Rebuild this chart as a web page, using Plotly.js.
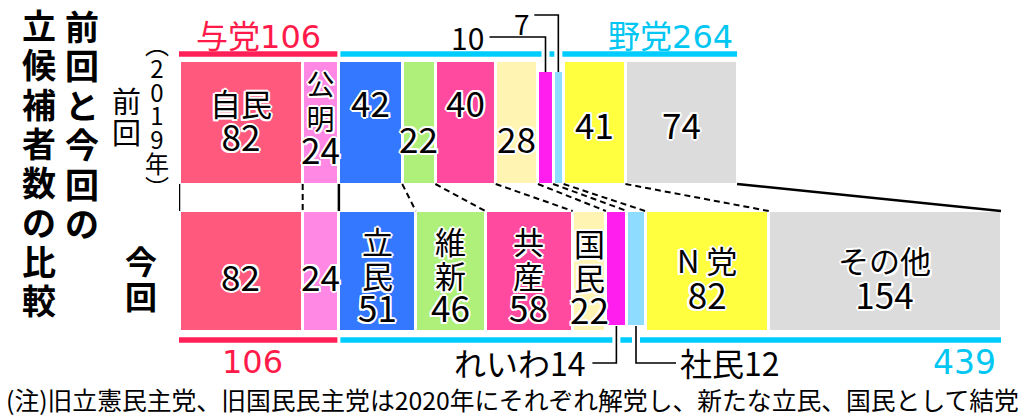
<!DOCTYPE html>
<html><head><meta charset="utf-8">
<script src="https://cdn.plot.ly/plotly-3.0.1.min.js"></script>
<style>html,body{margin:0;padding:0;background:#fff}#chart{width:1024px;height:419px}</style>
</head><body><div id="chart"></div>
<script>
// ---- data ----
const parties = ['自民','公明','立民','維新','共産','国民','れいわ','社民','N党','その他'];
const prev2019 = [82,24,42,22,40,28,10,7,41,74];
const current = [82,24,51,46,58,22,14,12,82,154];
const rows = ['前回','今回'];
const yearLabel = ['︵','2','0','1','9','年','︶'];
const titleText = '前回と今回の立候補者数の比較';
const rulingCount = 2; // 与党 = first two parties
const noteText = '(注)旧立憲民主党、旧国民民主党は2020年にそれぞれ解党し、新たな立民、国民として結党';

// ---- styles ----
const colors = ['#FF5A7E','#FF88E4','#3478FF','#AEF07A','#FF4AA0','#FFF4B2','#FF1EEE','#8EDCFF','#FFFF40','#DCDCDC'];
const RED = '#FF2058', CYAN = '#00CCFF', RED_T = '#FF1A4A', CYAN_T = '#00C6F2';
const FONT = '"Noto Sans CJK JP", "Noto Sans", sans-serif';
const DIGIT = '"DejaVu Sans", "Noto Sans CJK JP", sans-serif';

const sum = a => a.reduce((s,v)=>s+v,0);
const cum = a => { const c=[0]; a.forEach(v=>c.push(c[c.length-1]+v)); return c; };
const cPrev = cum(prev2019), cNow = cum(current);
const totPrev = sum(prev2019), totNow = sum(current);
const rulingPrev = sum(prev2019.slice(0,rulingCount)), rulingNow = sum(current.slice(0,rulingCount));
const oppPrev = totPrev - rulingPrev, oppNow = totNow - rulingNow;

// ---- geometry helpers ----
const ML = 179, MR = 23, W = 1024, H = 419;
const PW = W - ML - MR;
const PXU = PW / totNow;           // px per data unit on x
const CY0 = 122.5, PPU = 148.5;    // y px of row 0, px per row unit
const Y = py => (py - CY0) / PPU;
const dx = px => px / PXU;
const PX = px => (px - ML) / PW;   // paper x
const ctrPrev = i => cPrev[i] + prev2019[i]/2;
const ctrNow = i => cNow[i] + current[i]/2;

const traces = [];
const wTop = 124/PPU, wBot = 121/PPU;
parties.forEach((p,i)=>{
  let width = [wTop, wBot], offset = [-wTop/2, -wBot/2];
  if (i===6 || i===7) { // small bars shortened where leader lines attach
    width = [114/PPU, 116/PPU];
    offset = [Y(70.5), Y(210.5)-1];
  }
  traces.push({type:'bar', orientation:'h', name:p, y:[0,1], x:[prev2019[i], current[i]],
    width, offset, marker:{color:colors[i], line:{color:'#fff', width:3}},
    hoverinfo:'skip', textposition:'none'});
});

// connectors between rows
for (let i=0;i<=parties.length;i++){
  const solid = (i===0 || i===rulingCount || i===parties.length);
  traces.push({type:'scatter', mode:'lines', x:[cPrev[i], cNow[i]], y:[Y(184), Y(211)],
    line:{color:'#000', width: solid?2.5:2, dash: solid?'solid':'6px,4px'}, hoverinfo:'skip'});
}
// leader lines
const c6t = ctrPrev(6), c7t = ctrPrev(7), c6b = ctrNow(6), c7b = ctrNow(7);
const leaders = [
  {x:[c6t-dx(56), c6t, c6t], y:[Y(37),Y(37),Y(72)]},
  {x:[c7t-dx(24), c7t, c7t], y:[Y(15),Y(15),Y(72)]},
  {x:[c6b-dx(24), c6b, c6b], y:[Y(363),Y(363),Y(326)]},
  {x:[c7b, c7b, c7b+dx(40)], y:[Y(326),Y(363),Y(363)]},
];
leaders.forEach(l=>traces.push({type:'scatter', mode:'lines', x:l.x, y:l.y, line:{color:'#000', width:1.6}, hoverinfo:'skip'}));

// header/footer group lines
const shapes = [];
const g = dx(4), h = dx(1.5);
function hline(x0,x1,py,color){ shapes.push({type:'line', xref:'x', yref:'y', x0, x1, y0:Y(py), y1:Y(py), line:{color, width:5.5}, layer:'below'}); }
hline(0, rulingPrev-h, 54, RED);
hline(rulingPrev+h, c6t-g, 54, CYAN);
hline(c6t+g, c7t-g, 54, CYAN);
hline(c7t+g, totPrev, 54, CYAN);
hline(0, rulingNow-h, 340, RED);
hline(rulingNow+h, c6b-g, 340, CYAN);
hline(c6b+g, c7b-g, 340, CYAN);
hline(c7b+g, totNow, 340, CYAN);

// ---- text ----
const ann = [];
function t(x, py, text, size, opt={}){
  ann.push(Object.assign({x, y:Y(py), xref:'x', yref:'y', text, showarrow:false,
    xanchor:'center', yanchor:'middle',
    font:{family:FONT, size, color:'#000'}}, opt));
}
// multi-line block with fixed line pitch and given glyph sizes
function block(lines, sizes){
  return lines.map((l,k)=>`<span style="font-size:${sizes[k]}px">${l}</span>`).join('<br>');
}
const HALO_OFF = [[2,0],[-2,0],[0,2],[0,-2],[1.5,1.5],[-1.5,1.5],[1.5,-1.5],[-1.5,-1.5]];
function label(x, pyCenter, lines, pitch, sizes){
  const text = block(lines, sizes);
  const base = pitch/1.3;
  HALO_OFF.forEach(([sx,sy])=>t(x, pyCenter, text, base, {xshift:sx, yshift:sy, font:{family:FONT,size:base,color:'#fff'}}));
  t(x, pyCenter, text, base);
}
const CJ = 31, DG = 35;
// top row
label(ctrPrev(0), 120.5, [parties[0], prev2019[0]], 35, [CJ, DG]);
label(ctrPrev(1), 118.5, [parties[1][0], parties[1][1], prev2019[1]], 34.5, [28, 28, DG]);
[[2,101],[3,137],[4,101],[5,137],[8,123],[9,123]].forEach(([i,py])=>label(ctrPrev(i), py, [prev2019[i]], 40, [DG]));
// bottom row
label(ctrNow(0), 275, [current[0]], 40, [DG]);
label(ctrNow(1), 275, [current[1]], 40, [DG]);
[2,3,4,5].forEach(i=>{
  label(ctrNow(i), i===5 ? 277 : 275, [parties[i][0], parties[i][1], current[i]], 34, [CJ, CJ, DG]);
});
label(ctrNow(8), 278, [parties[8].replace('N','N '), current[8]], 36, [CJ, DG]);
label(ctrNow(9), 278, [parties[9], current[9]], 36, [CJ, DG]);

// leader labels
t(c6t-dx(78), 37, String(prev2019[6]), 30);
t(c7t-dx(36), 0.5, String(prev2019[7]), 28, {yanchor:'top'});
t(c6b-dx(28), 362, parties[6]+current[6], 32, {xanchor:'right'});
t(c7b+dx(42), 362, parties[7]+current[7], 32, {xanchor:'left'});

// group totals
const num = v=>`<span style="font-family:'DejaVu Sans'">${v}</span>`;
t(rulingPrev/2, 34, '与党'+num(rulingPrev), 32, {font:{family:FONT,size:32,color:RED_T}});
t(totPrev - dx(2), 34, '野党'+num(oppPrev), 32, {xanchor:'right', font:{family:FONT,size:32,color:CYAN_T}});
t(rulingNow/2 - dx(6), 362, String(rulingNow), 32, {font:{family:DIGIT,size:32,color:RED_T}});
t(totNow - dx(3), 362, String(oppNow), 33, {xanchor:'right', font:{family:DIGIT,size:33,color:CYAN_T}});

// vertical texts (left)
function vcol(px, pyCenter, chars, pitch, size, bold){
  ann.push({x:PX(px), xref:'paper', y:Y(pyCenter), yref:'y', showarrow:false, xanchor:'center', yanchor:'middle',
    text: block(chars, chars.map(()=>size)),
    font:{family:FONT, size:pitch/1.3, color:'#000', weight: bold?'bold':'normal'}});
}
const titleChars = titleText.split('');
const titleR = titleChars.slice(0,6), titleL = titleChars.slice(6);
vcol(82, 25+2.5*39.4, titleR, 39.4, 34, true);
vcol(39, 24+3.5*39.3, titleL, 39.3, 34, true);
vcol(126, 115.5, rows[0].split(''), 31, 29, false);
vcol(157, 114.5, yearLabel, 23.8, 24, false);
vcol(141, 277.5, rows[1].split(''), 35, 32, true);

// note
ann.push({x:PX(4), xref:'paper', y:Y(399), yref:'y', xanchor:'left', yanchor:'middle', showarrow:false,
  text:noteText, font:{family:FONT, size:24.8, color:'#000'}});

const layout = {
  width:W, height:H, margin:{l:ML, r:MR, t:0, b:0},
  paper_bgcolor:'#fff', plot_bgcolor:'#fff', showlegend:false, barmode:'stack', bargap:0,
  xaxis:{range:[0,totNow], visible:false, fixedrange:true},
  yaxis:{range:[Y(H), Y(0)], visible:false, fixedrange:true},
  shapes, annotations:ann
};
Plotly.newPlot('chart', traces, layout, {staticPlot:true, displayModeBar:false});
</script></body></html>
